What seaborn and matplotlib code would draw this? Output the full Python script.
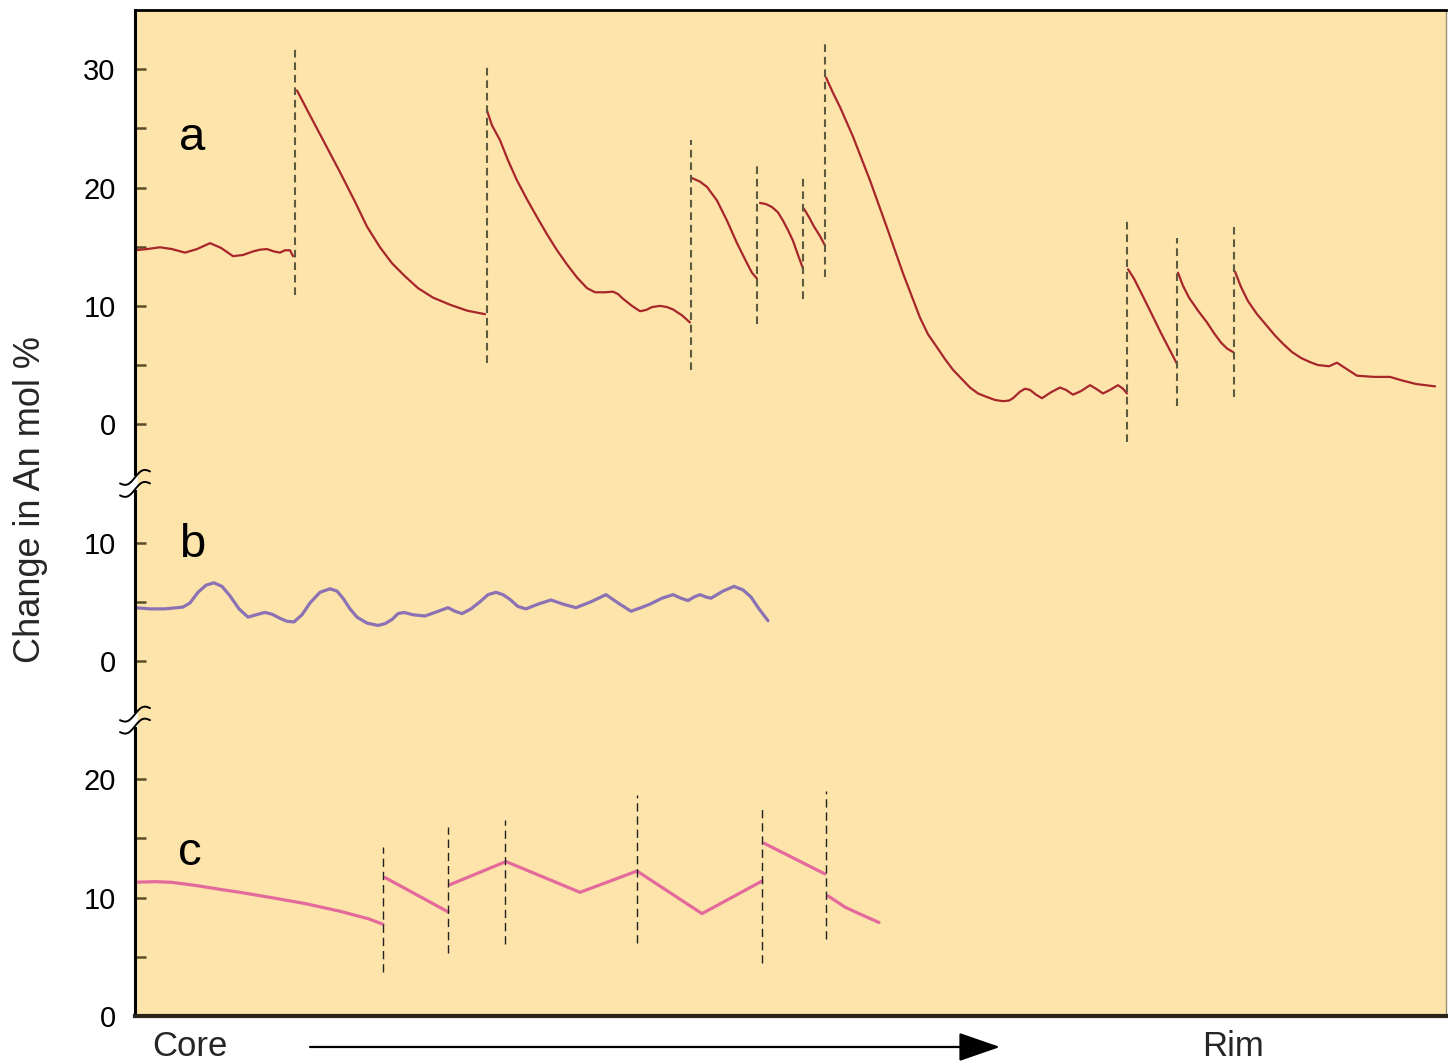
import numpy as np
import pandas as pd
import matplotlib
matplotlib.use("Agg")
import matplotlib.pyplot as plt
import seaborn as sns

# ---------------- data (distance from core, change in An mol %) ----------------
# panel a : segments separated by resorption surfaces
a_x = [
    [0, 12, 25, 37, 50, 62, 75, 86, 98, 108, 118, 125, 132, 139, 145, 150, 155, 158],
    [162, 175, 190, 205, 220, 232, 245, 257, 270, 283, 298, 315, 332, 350],
    [352, 357, 365, 373, 382, 392, 402, 412, 422, 432, 442, 452, 460, 470, 478,
     483, 488, 497, 505, 511, 517, 525, 532, 538, 547, 555],
    [557, 565, 572, 582, 592, 602, 612, 617, 622],
    [625, 631, 637, 643, 648, 653, 658, 663, 668],
    [669, 674, 679, 685, 690],
    [691, 698, 705, 718, 735, 752, 768, 785, 793, 802, 810, 818, 827, 835, 843,
     852, 860, 868, 874, 878, 885, 890, 895, 901, 907, 916, 925, 931, 938, 946,
     955, 961, 968, 975, 983, 988, 992],
    [993, 999, 1005, 1015, 1026, 1034, 1042],
    [1043, 1048, 1054, 1063, 1072, 1079, 1086, 1092, 1098],
    [1100, 1106, 1113, 1122, 1131, 1140, 1148, 1157, 1166, 1175, 1183, 1194,
     1202, 1211, 1222, 1239, 1255, 1267, 1281, 1300],
]
a_y = [
    [14.7, 14.8, 14.95, 14.8, 14.5, 14.8, 15.3, 14.9, 14.2, 14.3, 14.6, 14.75,
     14.8, 14.6, 14.5, 14.7, 14.7, 14.2],
    [28.2, 26.1, 23.7, 21.3, 18.8, 16.7, 14.95, 13.6, 12.5, 11.5, 10.7, 10.1, 9.6, 9.3],
    [26.5, 25.25, 24.0, 22.3, 20.6, 19.0, 17.5, 16.05, 14.7, 13.5, 12.4, 11.5,
     11.15, 11.15, 11.2, 11.0, 10.6, 10.0, 9.55, 9.65, 9.9, 10.0, 9.9, 9.7, 9.2, 8.6],
    [20.8, 20.5, 20.05, 18.9, 17.2, 15.3, 13.6, 12.8, 12.3],
    [18.7, 18.6, 18.35, 17.9, 17.2, 16.4, 15.5, 14.3, 13.15],
    [18.2, 17.5, 16.7, 15.9, 15.1],
    [29.3, 28.0, 26.8, 24.3, 20.6, 16.6, 12.75, 9.0, 7.6, 6.5, 5.5, 4.6, 3.8,
     3.1, 2.6, 2.3, 2.05, 1.95, 2.0, 2.2, 2.75, 3.0, 2.9, 2.5, 2.2, 2.7, 3.1,
     2.9, 2.5, 2.8, 3.3, 3.0, 2.6, 2.9, 3.3, 3.0, 2.6],
    [13.1, 12.3, 11.3, 9.6, 7.7, 6.4, 5.1],
    [12.8, 11.7, 10.7, 9.6, 8.6, 7.7, 6.9, 6.4, 6.1],
    [12.9, 11.6, 10.4, 9.3, 8.4, 7.5, 6.8, 6.1, 5.6, 5.25, 5.0, 4.9, 5.2, 4.7,
     4.1, 4.0, 4.0, 3.7, 3.4, 3.2],
]
a_dash_x = [160, 352, 556, 622, 668, 690, 992, 1042, 1099]
a_dash_lo = [10.9, 5.15, 4.6, 8.5, 10.6, 12.4, -1.5, 1.55, 2.3]
a_dash_hi = [31.8, 30.5, 24.0, 22.0, 21.0, 32.2, 17.3, 15.7, 16.7]

# panel b : oscillatory zoning
b_x = [[0, 15, 30, 48, 55, 63, 71, 79, 87, 95, 104, 113, 121, 130, 137, 145,
        152, 159, 167, 175, 185, 195, 202, 208, 215, 222, 232, 243, 250, 257,
        263, 269, 278, 290, 300, 313, 320, 327, 336, 345, 353, 361, 368, 375,
        383, 391, 403, 416, 428, 441, 456, 471, 483, 496, 506, 515, 527, 538,
        546, 553, 559, 565, 571, 576, 588, 599, 608, 616, 624, 633]]
b_y = [[4.5, 4.4, 4.4, 4.55, 4.9, 5.8, 6.4, 6.6, 6.3, 5.5, 4.4, 3.7, 3.9, 4.1,
        3.95, 3.6, 3.35, 3.3, 3.9, 4.9, 5.8, 6.1, 5.9, 5.3, 4.4, 3.7, 3.2, 3.0,
        3.15, 3.5, 4.0, 4.1, 3.9, 3.8, 4.1, 4.5, 4.2, 4.0, 4.4, 5.0, 5.6, 5.8,
        5.6, 5.2, 4.6, 4.4, 4.8, 5.15, 4.8, 4.5, 5.0, 5.6, 4.9, 4.2, 4.5, 4.8,
        5.3, 5.6, 5.3, 5.1, 5.4, 5.6, 5.4, 5.3, 5.9, 6.3, 6.0, 5.4, 4.4, 3.4]]

# panel c : saw-tooth zoning
c_x = [
    [0, 20, 36, 50, 63, 85, 105, 140, 170, 205, 234, 248],
    [250, 313],
    [315, 371, 445, 502, 567, 627],
    [629, 690],
    [693, 710, 724, 744],
]
c_y = [
    [11.3, 11.35, 11.3, 11.15, 11.0, 10.7, 10.45, 9.95, 9.5, 8.85, 8.2, 7.75],
    [11.7, 8.8],
    [11.1, 13.05, 10.45, 12.25, 8.65, 11.4],
    [14.6, 12.0],
    [10.15, 9.2, 8.65, 7.9],
]
c_dash_x = [248, 313, 370, 502, 627, 691]
c_dash_lo = [3.7, 5.3, 6.05, 6.2, 4.5, 6.5]
c_dash_hi = [14.3, 16.0, 16.6, 18.7, 17.8, 19.0]

# axis ticks (value labels of each stacked sub-axis)
a_ticks = [0, 5, 10, 15, 20, 25, 30]
b_ticks = [0, 5, 10]
c_ticks = [0, 5, 10, 15, 20]
panel_letters = ["a", "b", "c"]

# ---------------- layout ----------------
OFF = {"a": 50, "b": 30, "c": 0}
BREAKS = [25, 45]

sns.set_style("ticks")
plt.rcParams["font.family"] = ["Liberation Sans", "DejaVu Sans"]
plt.rcParams["lines.scale_dashes"] = False

fig = plt.figure(figsize=(14.48, 10.62), dpi=100)
ax = fig.add_axes([135 / 1448, 46 / 1062, 1311 / 1448, 1006 / 1062])
ax.set_facecolor("#FCE4AB")

rows = []
for panel, xs_l, ys_l in (("a", a_x, a_y), ("b", b_x, b_y), ("c", c_x, c_y)):
    for k, (xs, ys) in enumerate(zip(xs_l, ys_l)):
        for x, y in zip(xs, ys):
            rows.append({"panel": panel, "seg": f"{panel}{k}", "x": x, "y": y + OFF[panel]})
df = pd.DataFrame(rows)

styles = {"a": ("#A8262B", 1.6), "b": ("#8C72B4", 2.3), "c": ("#E46A9C", 2.3)}
for panel, (col, lw) in styles.items():
    sns.lineplot(data=df[df.panel == panel], x="x", y="y", units="seg",
                 estimator=None, sort=False, color=col, lw=lw, ax=ax,
                 legend=False, solid_joinstyle="round", solid_capstyle="round")

ax.vlines(a_dash_x, np.array(a_dash_lo) + OFF["a"], np.array(a_dash_hi) + OFF["a"],
          colors="#5E5A40", linestyles=(0, (5.5, 3.5)), lw=1.5, zorder=3)
ax.vlines(c_dash_x, np.array(c_dash_lo) + OFF["c"], np.array(c_dash_hi) + OFF["c"],
          colors="#222222", linestyles=(0, (6, 3.5)), lw=1.0, zorder=3)

ax.set_xlim(0, 1311)
ax.set_ylim(0, 85)
ax.set_xticks([])
ax.set_xlabel("")

ticks, labels = [], []
for panel, tl in (("c", c_ticks), ("b", b_ticks), ("a", a_ticks)):
    for t in tl:
        ticks.append(t + OFF[panel])
        labels.append(str(t) if t % 10 == 0 else "")
ax.set_yticks(ticks)
ax.set_yticklabels(labels)
ax.tick_params(axis="y", direction="in", length=8, width=1.8, color="#5B4E28",
               labelsize=21, pad=14, labelcolor="black")

ax.set_ylabel("Change in An mol %", fontsize=26)
ax.yaxis.set_label_coords(-0.0664, 0.513)

for side, lw, col in (("left", 2.2, "black"), ("bottom", 3.0, "#2B2418"),
                      ("top", 2.0, "black"), ("right", 1.0, "#9A8F70")):
    ax.spines[side].set_visible(True)
    ax.spines[side].set_linewidth(lw)
    ax.spines[side].set_color(col)

# panel letters
for letter, (lx, ly) in zip(panel_letters, [(57, 73.2), (57, 38.8), (55, 12.8)]):
    ax.text(lx, ly, letter, fontsize=34, ha="center", va="baseline", color="black")

# axis-break marks on the left spine
W, H = 1311.0, 1006.0
t = np.linspace(-1, 1, 40)
for yb in BREAKS:
    yax = yb / 85.0
    ax.plot([0, 0], [yax - 7 / H, yax + 7 / H], transform=ax.transAxes,
            color="white", lw=4, clip_on=False, zorder=6, solid_capstyle="butt")
    for dy0 in (-6, 6):
        dx = 15 * t
        dy = dy0 + 6 * t + 4 * np.sin(np.pi * t)
        ax.plot(dx / W, yax + dy / H, transform=ax.transAxes, color="black",
                lw=1.4, clip_on=False, zorder=7)

# core -> rim annotation
ax.text(0.042, -0.0398, "Core", transform=ax.transAxes, fontsize=25,
        ha="center", va="baseline")
ax.text(0.8375, -0.0398, "Rim", transform=ax.transAxes, fontsize=25,
        ha="center", va="baseline")
ax.annotate("", xy=(0.6598, -0.0308), xytext=(0.1335, -0.0308),
            xycoords="axes fraction", textcoords="axes fraction",
            annotation_clip=False,
            arrowprops=dict(arrowstyle="-|>,head_length=1.3,head_width=0.45",
                            lw=1.6, color="black", mutation_scale=20,
                            shrinkA=0, shrinkB=0))

fig.savefig("out.png", dpi=100, facecolor="white")
